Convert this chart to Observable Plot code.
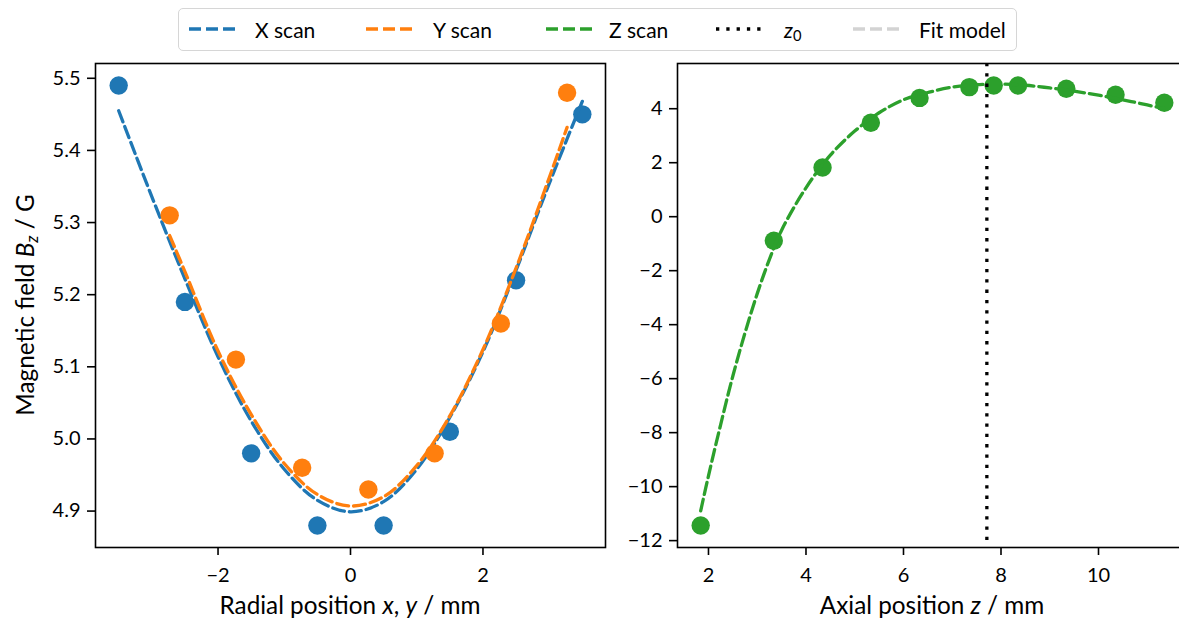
<!DOCTYPE html>
<html><head><meta charset="utf-8">
<script src="https://cdn.jsdelivr.net/npm/d3@7"></script>
<script src="https://cdn.jsdelivr.net/npm/@observablehq/plot@0.6"></script>
<style>
html,body{margin:0;padding:0;overflow:hidden;background:#fff;}
#root{position:relative;width:1179px;height:621px;overflow:hidden;font-family:Lato,sans-serif;color:#000;}
.abs{position:absolute;}
.lab{position:absolute;font-size:24.3px;white-space:nowrap;transform:translate(-50%,-50%);}
.leg{position:absolute;font-size:21px;white-space:nowrap;transform:translateY(-50%);}
sub{font-size:0.7em;vertical-align:-0.25em;line-height:0;}
</style></head><body><div id="root"></div>
<script>
// ---- data ----
const xScanPos   = [-3.5, -2.5, -1.5, -0.5, 0.5, 1.5, 2.5, 3.5];
const xScanField = [5.49, 5.19, 4.98, 4.88, 4.88, 5.01, 5.22, 5.45];
const yScanPos   = [-2.73, -1.73, -0.73, 0.27, 1.27, 2.27, 3.27];
const yScanField = [5.31, 5.11, 4.96, 4.93, 4.98, 5.16, 5.48];
const xFitPos    = [-3.5, -3, -2.5, -2, -1.5, -1, -0.5, 0, 0.5, 1, 1.5, 2, 2.5, 3, 3.5];
const xFitField  = [5.455, 5.336, 5.222, 5.114, 5.025, 4.958, 4.915, 4.899, 4.913, 4.958, 5.030, 5.121, 5.234, 5.354, 5.468];
const yFitPos    = [-2.73, -2.5, -2, -1.5, -1, -0.5, 0, 0.5, 1, 1.5, 2, 2.5, 3, 3.27];
const yFitField  = [5.282, 5.232, 5.122, 5.034, 4.966, 4.923, 4.907, 4.920, 4.963, 5.032, 5.124, 5.237, 5.362, 5.432];
const zScanPos   = [1.84, 3.34, 4.34, 5.33, 6.33, 7.35, 7.85, 8.35, 9.34, 10.35, 11.35];
const zScanField = [-11.44, -0.89, 1.82, 3.48, 4.40, 4.80, 4.86, 4.86, 4.74, 4.52, 4.22];
const zFitPos    = [1.84, 2.0, 2.25, 2.5, 2.75, 3.0, 3.25, 3.5, 4.0, 4.5, 5.0, 5.5, 6.0, 6.5, 7.0, 7.5, 8.0, 8.5, 9.0, 9.5, 10.0, 10.5, 11.0, 11.35];
const zFitField  = [-10.9, -9.6, -7.7, -5.9, -4.3, -2.85, -1.58, -0.5, 1.07, 2.28, 3.17, 3.85, 4.33, 4.6, 4.8, 4.89, 4.91, 4.87, 4.77, 4.65, 4.5, 4.33, 4.14, 4.0];
const z0 = 7.71;
const radialTicks = [-2, 0, 2];
const fieldTicksLeft = [4.9, 5.0, 5.1, 5.2, 5.3, 5.4, 5.5];
const axialTicks = [2, 4, 6, 8, 10];
const fieldTicksRight = [-12, -10, -8, -6, -4, -2, 0, 2, 4];
const seriesNames = ["X scan", "Y scan", "Z scan", "z0", "Fit model"];
const seriesColors = ["#1f77b4", "#ff7f0e", "#2ca02c", "#000000", "#d3d3d3"];

const zip = (xs, ys) => xs.map((x, i) => ({x, y: ys[i]}));
const xScan = zip(xScanPos, xScanField), yScan = zip(yScanPos, yScanField);
const xFit = zip(xFitPos, xFitField), yFit = zip(yFitPos, yFitField);
const zScan = zip(zScanPos, zScanField), zFit = zip(zFitPos, zFitField);

const DASH = "12,5", LW = 3.3, R = 9.2;
const style = {fontFamily: "Lato, sans-serif", fontSize: "20px", color: "black", background: "transparent", overflow: "visible"};
const pad = (lo, hi) => { const m = (hi - lo) * 0.05; return [lo - m, hi + m]; };

const left = Plot.plot({
  width: 640, height: 621,
  marginLeft: 95, marginRight: 35, marginTop: 63, marginBottom: 74,
  style,
  x: {domain: pad(-3.5, 3.5)},
  y: {domain: pad(d3.min([...xScanField, ...yScanField]), d3.max([...xScanField, ...yScanField]))},
  marks: [
    Plot.axisX({ticks: radialTicks, tickFormat: d3.format(""), tickSize: 8, tickPadding: 12, strokeWidth: 1.6, label: null}),
    Plot.axisY({ticks: fieldTicksLeft, tickFormat: d3.format(".1f"), tickSize: 8, tickPadding: 7, strokeWidth: 1.6, label: null}),
    Plot.dot(xScan, {x: "x", y: "y", r: R, fill: seriesColors[0]}),
    Plot.line(xFit, {x: "x", y: "y", stroke: seriesColors[0], strokeWidth: LW, strokeDasharray: DASH, curve: "catmull-rom"}),
    Plot.dot(yScan, {x: "x", y: "y", r: R, fill: seriesColors[1]}),
    Plot.line(yFit, {x: "x", y: "y", stroke: seriesColors[1], strokeWidth: LW, strokeDasharray: DASH, curve: "catmull-rom"}),
    Plot.frame({stroke: "black", strokeWidth: 1.6})
  ]
});

const right = Plot.plot({
  width: 560, height: 621,
  marginLeft: 37, marginRight: 13, marginTop: 63, marginBottom: 74,
  style,
  x: {domain: pad(d3.min(zScanPos), d3.max(zScanPos))},
  y: {domain: pad(d3.min(zScanField), d3.max(zScanField))},
  marks: [
    Plot.axisX({ticks: axialTicks, tickFormat: d3.format(""), tickSize: 8, tickPadding: 12, strokeWidth: 1.6, label: null}),
    Plot.axisY({ticks: fieldTicksRight, tickFormat: d3.format(""), tickSize: 8, tickPadding: 7, strokeWidth: 1.6, label: null}),
    Plot.dot(zScan, {x: "x", y: "y", r: R, fill: seriesColors[2]}),
    Plot.line(zFit, {x: "x", y: "y", stroke: seriesColors[2], strokeWidth: LW, strokeDasharray: DASH, curve: "catmull-rom"}),
    Plot.ruleX([z0], {stroke: "black", strokeWidth: 3.3, strokeDasharray: "3.3,7"}),
    Plot.frame({stroke: "black", strokeWidth: 1.6})
  ]
});

const root = document.getElementById("root");
left.style.position = "absolute"; left.style.left = "0px"; left.style.top = "0px";
right.style.position = "absolute"; right.style.left = "640px"; right.style.top = "0px";
root.appendChild(left); root.appendChild(right);

function addLabel(html, x, y, rotate) {
  const d = document.createElement("div");
  d.className = "lab"; d.innerHTML = html;
  d.style.left = x + "px"; d.style.top = y + "px";
  if (rotate) d.style.transform = "translate(-50%,-50%) rotate(-90deg)";
  root.appendChild(d);
}
addLabel("Radial position <i>x</i>, <i>y</i> / mm", 350, 604);
addLabel("Axial position <i>z</i> / mm", 932, 604);
addLabel("Magnetic field <i>B<sub>z</sub></i> / G", 24, 305, true);

// legend
const box = document.createElement("div");
box.className = "abs";
Object.assign(box.style, {left: "178px", top: "8px", width: "837px", height: "41px", border: "1.5px solid #d6d6d6", borderRadius: "5px", background: "rgba(255,255,255,0.8)"});
root.appendChild(box);
const handleX = [189, 366, 546, 716, 853];
const textX = [255, 433, 609, 784, 919];
const legendLabels = ["X scan", "Y scan", "Z scan", "<i>z</i><sub>0</sub>", "Fit model"];
seriesNames.forEach((name, i) => {
  const svg = d3.create("svg").attr("width", 47).attr("height", 10)
    .style("position", "absolute").style("left", handleX[i] + "px").style("top", "24px");
  svg.append("line").attr("x1", 0).attr("x2", 47).attr("y1", 5).attr("y2", 5)
    .attr("stroke", seriesColors[i]).attr("stroke-width", i === 3 ? 3.3 : LW)
    .attr("stroke-dasharray", i === 3 ? "3.3,7" : DASH);
  root.appendChild(svg.node());
  const t = document.createElement("div");
  t.className = "leg"; t.innerHTML = legendLabels[i];
  t.style.left = textX[i] + "px"; t.style.top = "29px";
  root.appendChild(t);
});
</script></body></html>
